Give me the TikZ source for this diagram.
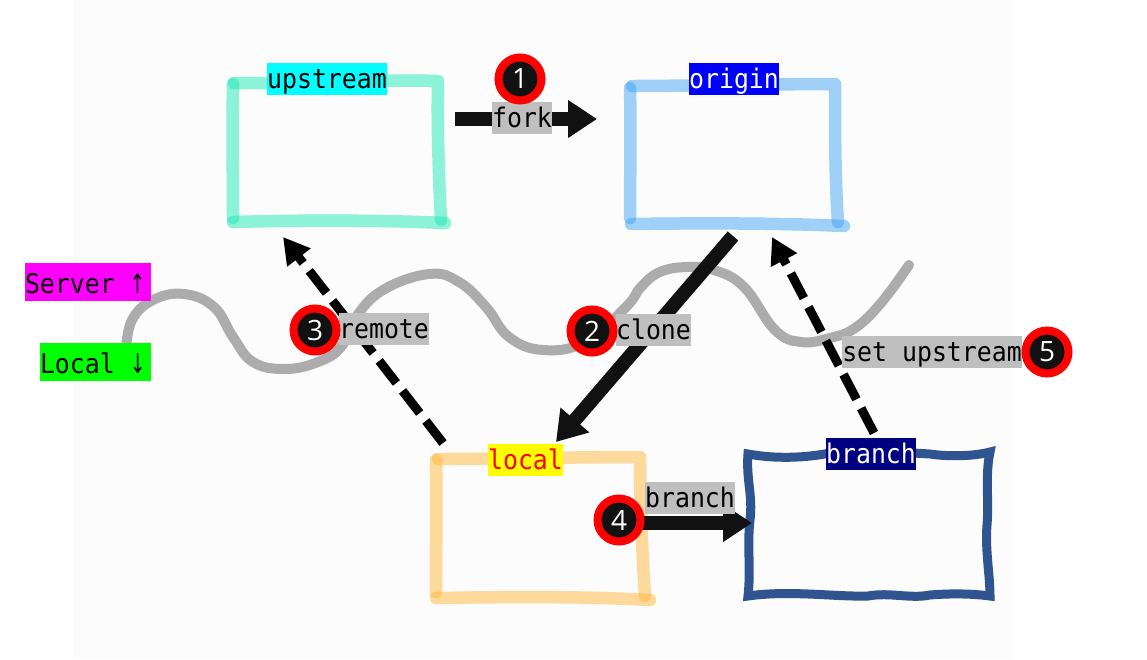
\documentclass[tikz,border=0pt]{standalone}
\usepackage{xcolor}
\usepackage{fontspec}
\usetikzlibrary{arrows.meta}
\setmainfont{Open Sans}
\newfontfamily\monofont[FakeStretch=0.92]{DejaVu Sans Mono}
\newfontfamily\arrowfont[FakeStretch=0.7]{DejaVu Sans}
\definecolor{mypage}{RGB}{252,252,252}
\definecolor{mydark}{RGB}{17,17,17}
\definecolor{mywave}{RGB}{172,172,172}
\definecolor{mylabel}{RGB}{191,191,191}
\definecolor{myteal}{RGB}{29,233,182}
\definecolor{myblue}{RGB}{66,165,245}
\definecolor{myamber}{RGB}{255,183,60}
\definecolor{mybranch}{RGB}{47,84,144}
\definecolor{mycyan}{RGB}{0,255,255}
\definecolor{myblueish}{RGB}{0,0,255}
\definecolor{myyellow}{RGB}{255,255,0}
\definecolor{mynavy}{RGB}{0,0,128}
\definecolor{mymagenta}{RGB}{255,0,255}
\definecolor{mygreen}{RGB}{0,255,0}
\definecolor{myred}{RGB}{255,0,0}
\tikzset{
  stroke/.style={line width=12.5pt,line cap=round,line join=round,opacity=0.5},
  tag/.style={inner sep=0pt,minimum height=32pt,text height=21pt,text depth=3pt,
    font=\fontsize{27pt}{28pt}\monofont},
  arrowlabel/.style={tag,fill=mylabel,text=black},
  sidetag/.style={tag,minimum height=38pt,text width=#1,align=left,text height=24pt,text depth=1pt,text=black},
  step badge/.style={circle,draw=myred,fill=mydark,line width=8pt,minimum size=43pt,inner sep=0pt,
    text=white,font=\fontsize{28pt}{30pt}\selectfont},
  solidarrow/.style={line width=14pt,color=mydark,-{Triangle[length=29pt,width=36pt]}},
  dasharrow/.style={line width=9pt,color=black,dash pattern=on 28pt off 10pt,
    -{Triangle[length=26pt,width=28pt]}}
}
\begin{document}
\begin{tikzpicture}[x=1pt,y=-1pt]
  \useasboundingbox (0,0) rectangle (1147,659);
  \fill[mypage] (73,0) rectangle (1012,659);

  % ── Server / local boundary ──────────────────────────────────────────────
  \draw[color=mywave, line width=10pt, line cap=round] plot[smooth, tension=0.7] coordinates {
    (126,350) (132,320) (153,300) (184,294) (214,307) (233,337) (253,362) (285,369)
    (318,362) (341,347) (356,317) (383,290) (429,274) (459,282) (486,307) (509,337)
    (543,350) (585,342) (626,307) (641,287) (660,272) (687,267) (714,270) (744,287)
    (775,330) (801,342) (830,338) (855,328) (881,303) (909,265)};

  % ── Hand drawn boxes ─────────────────────────────────────────────────────
  \draw[stroke, color=myteal] (234,83) .. controls (300,84) and (380,79) .. (438,81)
    .. controls (437,130) and (439,180) .. (441,220);
  \draw[stroke, color=myteal] (233,222) .. controls (300,220) and (380,220) .. (445,223);
  \draw[stroke, color=myteal] (233,84) .. controls (232,130) and (233,180) .. (233,218);

  \draw[stroke, color=myblue] (632,86) .. controls (680,86) and (780,84) .. (835,84)
    .. controls (835,130) and (835,180) .. (838,222);
  \draw[stroke, color=myblue] (631,224) .. controls (700,223) and (780,223) .. (844,226);
  \draw[stroke, color=myblue] (630,88) .. controls (631,130) and (630,180) .. (630,218);

  \draw[stroke, color=myamber] (438,459) .. controls (500,459) and (580,457) .. (640,457)
    .. controls (640,500) and (642,550) .. (645,596);
  \draw[stroke, color=myamber] (436,598) .. controls (500,597) and (580,596) .. (650,600);
  \draw[stroke, color=myamber] (436,460) .. controls (437,500) and (436,550) .. (436,592);

  \draw[color=mybranch, line width=9pt, miter limit=3]
    (748,454) .. controls (775,459) and (805,458) .. (830,453)
              .. controls (860,451) and (900,452) .. (930,454)
              .. controls (950,457) and (975,456) .. (990,452)
              .. controls (985,475) and (989,500) .. (987,525)
              .. controls (985,550) and (990,575) .. (990,596)
              .. controls (975,594) and (955,593) .. (930,595)
              .. controls (910,599) and (890,592) .. (868,596)
              .. controls (835,597) and (790,590) .. (748,596)
              .. controls (751,570) and (747,545) .. (750,520)
              .. controls (753,495) and (746,480) .. (748,454) -- cycle;

  % ── Connector ends ───────────────────────────────────────────────────────
  \coordinate (forkfrom) at (455,119);
  \coordinate (forkto) at (597,119);
  \coordinate (clonefrom) at (733,236);
  \coordinate (cloneto) at (556,442);
  \coordinate (remotefrom) at (443,443);
  \coordinate (remoteto) at (283,237);
  \coordinate (branchfrom) at (619,523);
  \coordinate (branchto) at (752,523);
  \coordinate (setfrom) at (874,433);
  \coordinate (setto) at (772,237);

  % ── Connectors ───────────────────────────────────────────────────────────
  \draw[solidarrow] (forkfrom) -- (forkto);
  \draw[solidarrow] (clonefrom) -- (cloneto);
  \draw[solidarrow] (branchfrom) -- (branchto);
  \draw[dasharrow] (remotefrom) -- (remoteto);
  \draw[dasharrow] (setfrom) -- (setto);

  % ── Box titles and side tags ─────────────────────────────────────────────
  \node[tag, fill=mycyan, text=black] (upstream) at (327,79) {upstream};
  \node[tag, fill=myblueish, text=white] (origin) at (734,79) {origin};
  \node[tag, fill=myyellow, text=myred] (local) at (525.5,460) {local};
  \node[tag, fill=mynavy, text=white] (branch) at (871,454) {branch};
  \node[sidetag=126pt, fill=mymagenta] (server) at (88,282) {Server\hspace{15pt}{\arrowfont ↑}};
  \node[sidetag=111pt, fill=mygreen] (localside) at (95.5,362) {Local\hspace{15pt}{\arrowfont ↓}};

  % ── Connector labels ─────────────────────────────────────────────────────
  \node[arrowlabel] (forklabel) at (522,118) {fork};
  \node[arrowlabel] (remotelabel) at (384,329) {remote};
  \node[arrowlabel] (clonelabel) at (653.5,330) {clone};
  \node[arrowlabel] (branchlabel) at (690,498) {branch};
  \node[arrowlabel] (setlabel) at (932,352) {set upstream};

  % ── Numbered badges ──────────────────────────────────────────────────────
  \node[step badge] (one) at (520,79) {1};
  \node[step badge] (two) at (592,331) {2};
  \node[step badge] (three) at (315,330) {3};
  \node[step badge] (four) at (619,520) {4};
  \node[step badge] (five) at (1047,352) {5};
\end{tikzpicture}
\end{document}
